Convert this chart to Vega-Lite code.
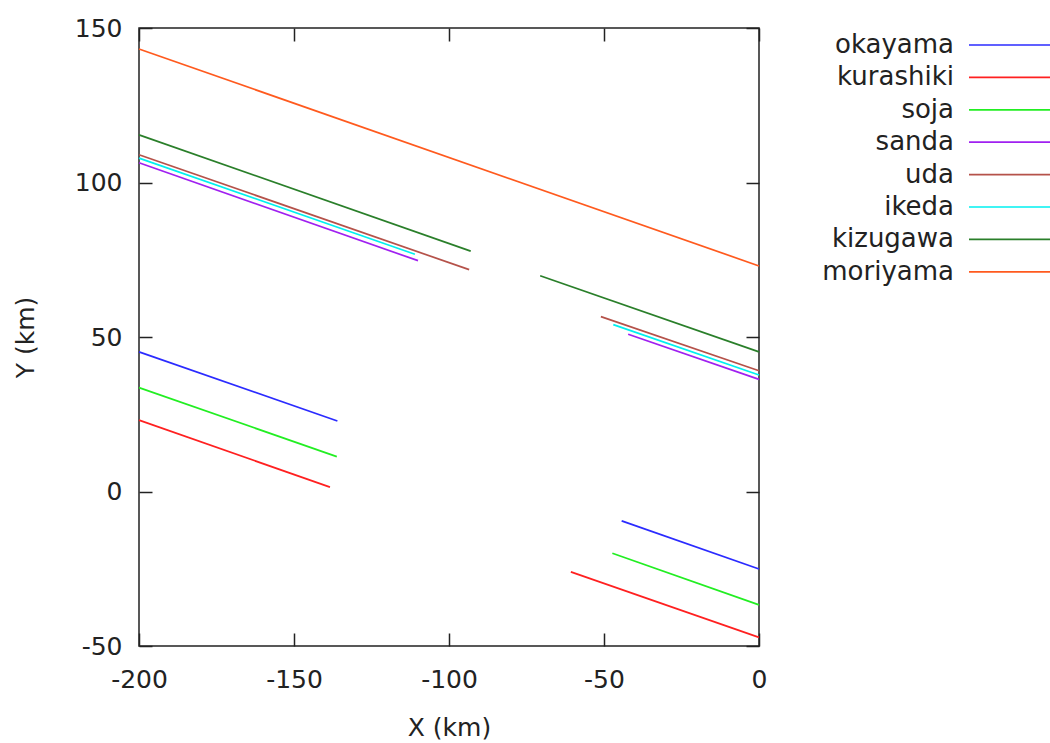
{
  "$schema": "https://vega.github.io/schema/vega-lite/v6.json",
  "width": 620,
  "height": 618,
  "autosize": {"type": "none"},
  "padding": {"left": 139, "top": 28, "right": 291, "bottom": 97},
  "background": "white",
  "config": {
    "view": {"stroke": "#222", "strokeWidth": 1.5},
    "font": "DejaVu Sans",
    "axis": {
      "grid": false,
      "domain": false,
      "ticks": true,
      "tickColor": "#222",
      "tickWidth": 1.5,
      "tickSize": -13,
      "labelFont": "DejaVu Sans",
      "labelFontSize": 25,
      "labelColor": "#222",
      "titleFont": "DejaVu Sans",
      "titleFontSize": 25,
      "titleFontWeight": "normal",
      "titleColor": "#222"
    },
    "legend": {
      "labelFont": "DejaVu Sans",
      "labelFontSize": 26,
      "labelColor": "#222"
    }
  },
  "data": {
    "values": [
      {"name": "okayama", "seg": 1, "x": -200, "y": 45.2, "x2": -136, "y2": 22.8},
      {"name": "okayama", "seg": 2, "x": -44.3, "y": -9.5, "x2": 0, "y2": -25.1},
      {"name": "kurashiki", "seg": 1, "x": -200, "y": 23.1, "x2": -138.4, "y2": 1.4},
      {"name": "kurashiki", "seg": 2, "x": -60.7, "y": -26.0, "x2": 0, "y2": -47.2},
      {"name": "soja", "seg": 1, "x": -200, "y": 33.6, "x2": -136.2, "y2": 11.3},
      {"name": "soja", "seg": 2, "x": -47.3, "y": -20.0, "x2": 0, "y2": -36.7},
      {"name": "sanda", "seg": 1, "x": -200, "y": 106.4, "x2": -110, "y2": 74.7},
      {"name": "sanda", "seg": 2, "x": -42.2, "y": 50.9, "x2": 0, "y2": 36.3},
      {"name": "uda", "seg": 1, "x": -200, "y": 109.0, "x2": -93.5, "y2": 71.8},
      {"name": "uda", "seg": 2, "x": -51, "y": 56.6, "x2": 0, "y2": 39.1},
      {"name": "ikeda", "seg": 1, "x": -200, "y": 107.9, "x2": -111, "y2": 76.8},
      {"name": "ikeda", "seg": 2, "x": -47, "y": 54.0, "x2": 0, "y2": 37.7},
      {"name": "kizugawa", "seg": 1, "x": -200, "y": 115.4, "x2": -93, "y2": 77.8},
      {"name": "kizugawa", "seg": 2, "x": -70.6, "y": 69.8, "x2": 0, "y2": 45.2},
      {"name": "moriyama", "seg": 1, "x": -200, "y": 143.2, "x2": 0, "y2": 73.0}
    ]
  },
  "layer": [
    {
      "mark": {"type": "rule", "strokeWidth": 1.7},
      "encoding": {
        "x": {
          "field": "x", "type": "quantitative",
          "scale": {"domain": [-200, 0], "nice": false, "zero": false},
          "axis": {
            "orient": "bottom", "values": [-200, -150, -100, -50, 0],
            "labelPadding": 34, "labelFlush": false,
            "labelExpr": "replace(datum.label, '\u2212', '-')",
            "title": "X (km)", "titleX": 310, "titleY": 81,
            "titleAnchor": null, "titleAlign": "center", "titleBaseline": "middle"
          }
        },
        "x2": {"field": "x2"},
        "y": {
          "field": "y", "type": "quantitative",
          "scale": {"domain": [-50, 150], "nice": false, "zero": false},
          "axis": {
            "orient": "left", "values": [-50, 0, 50, 100, 150],
            "labelPadding": 30, "labelFlush": false,
            "labelExpr": "replace(datum.label, '\u2212', '-')",
            "title": "Y (km)", "titleX": -114, "titleY": 309,
            "titleAngle": -90, "titleAlign": "center", "titleBaseline": "middle"
          }
        },
        "y2": {"field": "y2"},
        "color": {
          "field": "name", "type": "nominal",
          "scale": {
            "domain": ["okayama", "kurashiki", "soja", "sanda", "uda", "ikeda", "kizugawa", "moriyama"],
            "range": ["#2b2bff", "#ff2020", "#22ee22", "#a020f0", "#b5524a", "#00f0f0", "#2a7f2a", "#ff5a1e"]
          },
          "legend": {
            "title": null,
            "orient": "none",
            "legendX": 859,
            "legendY": 4,
            "padding": 0,
            "symbolType": "M-4,0H4",
            "symbolSize": 441,
            "symbolStrokeWidth": 1.7,
            "symbolOffset": 0,
            "labelAlign": "right",
            "labelOffset": -70,
            "rowPadding": 6.4,
            "labelExpr": "datum.label === 'kizugawa' ? 'kizugawa\u00a0' : datum.label"
          }
        }
      }
    },
    {
      "mark": {"type": "rule", "opacity": 0},
      "encoding": {
        "x": {
          "field": "x", "type": "quantitative",
          "axis": {"orient": "top", "values": [-200, -150, -100, -50, 0], "labels": false, "title": null}
        },
        "x2": {"field": "x2"},
        "y": {
          "field": "y", "type": "quantitative",
          "axis": {"orient": "right", "values": [-50, 0, 50, 100, 150], "labels": false, "title": null}
        },
        "y2": {"field": "y2"}
      }
    }
  ],
  "resolve": {"axis": {"x": "independent", "y": "independent"}}
}
